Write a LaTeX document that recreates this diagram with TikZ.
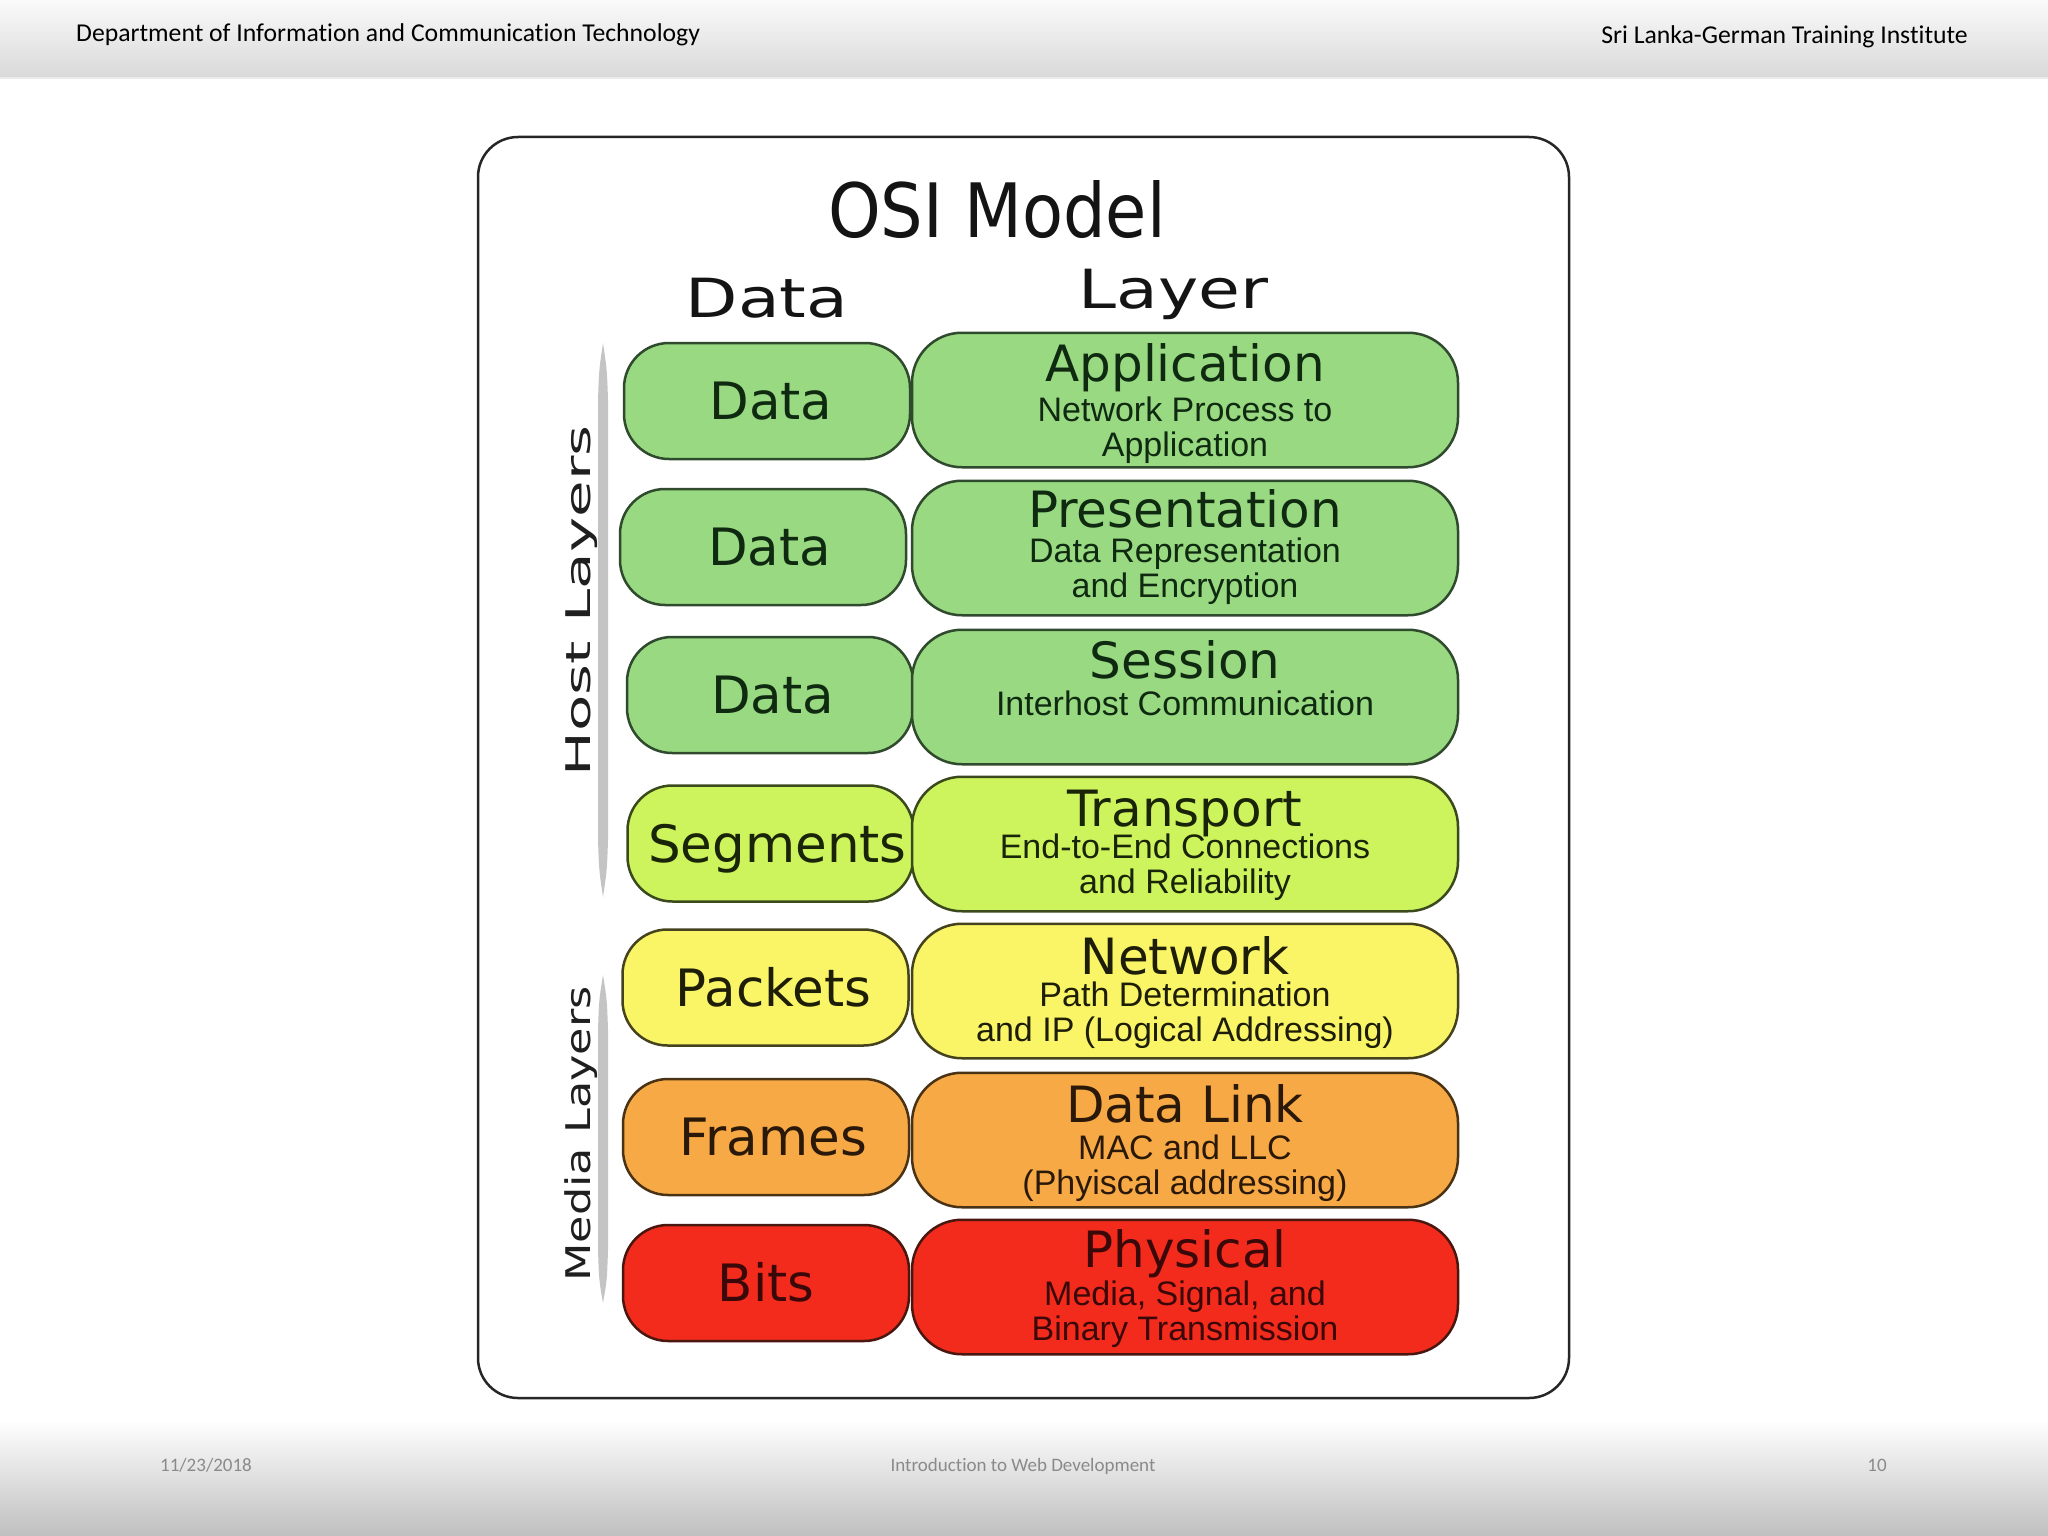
\documentclass[tikz,border=0pt]{standalone}
\usepackage{fontspec}
\usepackage{graphicx}
\newfontfamily\dvfont{DejaVu Sans}
\newfontfamily\libfont{Liberation Sans}
\newfontfamily\carfont[Ligatures=NoCommon]{Carlito}
\definecolor{cgreen}{HTML}{98D982}
\definecolor{bgreen}{HTML}{2F4A2C}
\definecolor{tgreen}{HTML}{0F2A10}
\definecolor{clime}{HTML}{CDF45C}
\definecolor{blime}{HTML}{3A4A1C}
\definecolor{tlime}{HTML}{1A2408}
\definecolor{cyellow}{HTML}{FAF566}
\definecolor{byellow}{HTML}{45421E}
\definecolor{tyellow}{HTML}{1E1E08}
\definecolor{corange}{HTML}{F7A945}
\definecolor{borange}{HTML}{4A3214}
\definecolor{torange}{HTML}{2A1808}
\definecolor{cred}{HTML}{F22B1C}
\definecolor{bred}{HTML}{4A1610}
\definecolor{tred}{HTML}{3A0808}
\definecolor{barcol}{HTML}{C4C4C4}
\definecolor{foottext}{HTML}{8A8A8A}
\begin{document}
\begin{tikzpicture}[x=1pt,y=-1pt,
  lbox/.style={draw, line width=2.5pt, rounded corners=45pt, minimum width=286pt,
    minimum height=116pt, inner sep=0pt, font=\dvfont\fontsize{51.5}{51.5}\selectfont,
    text height=37.5pt, text depth=0pt},
  rbox/.style={draw, line width=2.5pt, rounded corners=50pt, minimum width=546pt,
    minimum height=134.5pt, inner sep=0pt},
  ltitle/.style={anchor=base, inner sep=0pt, font=\dvfont\fontsize{50}{50}\selectfont},
  lsub/.style={anchor=base, inner sep=0pt, font=\libfont\fontsize{34}{34}\selectfont},
  sg/.style={fill=cgreen, draw=bgreen, text=tgreen},
  sl/.style={fill=clime, draw=blime, text=tlime},
  sy/.style={fill=cyellow, draw=byellow, text=tyellow},
  so/.style={fill=corange, draw=borange, text=torange},
  sr/.style={fill=cred, draw=bred, text=tred},
  headtext/.style={anchor=base, inner sep=0pt, font=\carfont\fontsize{25.7}{25.7}\selectfont, text=black},
  foottextstyle/.style={anchor=base, inner sep=0pt, font=\carfont\fontsize{19}{19}\selectfont, text=foottext},
  side/.style={rotate=90, anchor=base, inner sep=0pt, font=\dvfont\fontsize{34}{34}\selectfont, text=black!88}
]
\useasboundingbox (0,0) rectangle (2048,1536);
\fill[white] (0,0) rectangle (2048,1536);
% header and footer bands
\shade[top color=white!98!black, bottom color=black!15] (0,0) rectangle (2048,78);
\fill[black!8] (0,77) rectangle (2048,79);
\shade[top color=white, bottom color=black!25] (0,1420) rectangle (2048,1536);
\node[headtext, anchor=base west] (hleft) at (76,41.5) {Department of Information and Communication Technology};
\node[headtext, anchor=base east] (hright) at (1968,43.5) {Sri Lanka-German Training Institute};
\node[foottextstyle] (fdate) at (206,1471) {11/23/2018};
\node[foottextstyle] (fmid) at (1023,1471) {Introduction to Web Development};
\node[foottextstyle] (fnum) at (1877,1471) {10};
% frame
\node[draw=black!85, line width=2.5pt, rounded corners=40pt, minimum width=1091pt,
  minimum height=1261pt, inner sep=0pt] (frame) at (1023.5,767.5) {};
% titles
\node[anchor=base, inner sep=0pt, font=\dvfont\fontsize{75}{75}\selectfont, text=black!92] (title) at (997,237) {\scalebox{0.894}[1]{OSI Model}};
\node[anchor=base, inner sep=0pt, font=\dvfont\fontsize{54}{54}\selectfont, text=black!92] (hdata) at (767,317) {\scalebox{1.26}[1]{Data}};
\node[anchor=base, inner sep=0pt, font=\dvfont\fontsize{54}{54}\selectfont, text=black!92] (hlayer) at (1173.5,308) {\scalebox{1.26}[1]{Layer}};
% side bars
\fill[barcol] (603,343) .. controls (607,370) .. (608,400) -- (608,840) .. controls (607,870) .. (603,897)
  .. controls (599,870) .. (598,840) -- (598,400) .. controls (599,370) .. (603,343) -- cycle;
\fill[barcol] (603,975) .. controls (607,1000) .. (608,1030) -- (608,1250) .. controls (607,1280) .. (603,1303)
  .. controls (599,1280) .. (598,1250) -- (598,1030) .. controls (599,1000) .. (603,975) -- cycle;
\node[side] (host) at (590,601) {\scalebox{1.75}[1]{Host Layers}};
\node[side] (media) at (590,1134) {\scalebox{1.31}[1]{Media Layers}};
% left boxes
\node[lbox, sg] (l1) at (767,401) {\hspace*{8pt}Data};
\node[lbox, sg] (l2) at (763,547) {\hspace*{13pt}Data};
\node[lbox, sg] (l3) at (770,695) {\hspace*{5pt}Data};
\node[lbox, sl] (l4) at (770.5,843.5) {\hspace*{14pt}Segments};
\node[lbox, sy] (l5) at (765.5,987.5) {\hspace*{16pt}Packets};
\node[lbox, so] (l6) at (766,1137) {\hspace*{15pt}Frames};
\node[lbox, sr] (l7) at (766,1283) {Bits};
% right boxes
\node[rbox, sg] (r1) at (1185,400) {};
\node[rbox, sg] (r2) at (1185,548) {};
\node[rbox, sg] (r3) at (1185,697) {};
\node[rbox, sl] (r4) at (1185,844) {};
\node[rbox, sy] (r5) at (1185,991) {};
\node[rbox, so] (r6) at (1185,1140) {};
\node[rbox, sr] (r7) at (1185,1287) {};
% right texts
\node[ltitle, text=tgreen] (r1t) at ([yshift=-50pt]r1.north) {Application};
\node[lsub, text=tgreen] (r1a) at ([yshift=-90pt]r1.north) {Network Process to};
\node[lsub, text=tgreen] (r1b) at ([yshift=-125pt]r1.north) {Application};
\node[ltitle, text=tgreen] (r2t) at ([yshift=-48pt]r2.north) {Presentation};
\node[lsub, text=tgreen] (r2a) at ([yshift=-83pt]r2.north) {Data Representation};
\node[lsub, text=tgreen] (r2b) at ([yshift=-118pt]r2.north) {and Encryption};
\node[ltitle, text=tgreen] (r3t) at ([yshift=-50pt]r3.north) {Session};
\node[lsub, text=tgreen] (r3a) at ([yshift=-87pt]r3.north) {Interhost Communication};
\node[ltitle, text=tlime] (r4t) at ([yshift=-51pt]r4.north) {Transport};
\node[lsub, text=tlime] (r4a) at ([yshift=-83pt]r4.north) {End-to-End Connections};
\node[lsub, text=tlime] (r4b) at ([yshift=-118pt]r4.north) {and Reliability};
\node[ltitle, text=tyellow] (r5t) at ([yshift=-52pt]r5.north) {Network};
\node[lsub, text=tyellow] (r5a) at ([yshift=-84pt]r5.north) {Path Determination};
\node[lsub, text=tyellow] (r5b) at ([yshift=-119pt]r5.north) {and IP (Logical Addressing)};
\node[ltitle, text=torange] (r6t) at ([yshift=-51pt]r6.north) {Data Link};
\node[lsub, text=torange] (r6a) at ([yshift=-88pt]r6.north) {MAC and LLC};
\node[lsub, text=torange] (r6b) at ([yshift=-123pt]r6.north) {(Phyiscal addressing)};
\node[ltitle, text=tred] (r7t) at ([yshift=-49pt]r7.north) {Physical};
\node[lsub, text=tred] (r7a) at ([yshift=-87pt]r7.north) {Media, Signal, and};
\node[lsub, text=tred] (r7b) at ([yshift=-122pt]r7.north) {Binary Transmission};
\end{tikzpicture}
\end{document}
